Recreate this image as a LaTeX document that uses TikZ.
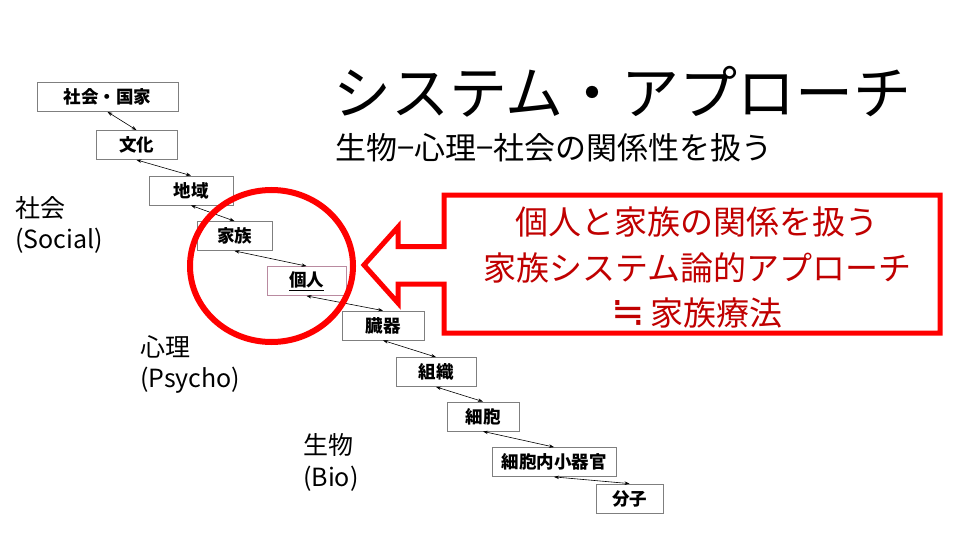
\documentclass[tikz,border=0pt]{standalone}
\usepackage{fontspec}
\setmainfont{Noto Sans CJK JP}
\newfontfamily\symfont{DejaVu Sans}
\usepackage{xcolor}
\definecolor{boxgray}{HTML}{7F7F7F}
\definecolor{selfrim}{HTML}{B98AA0}
\definecolor{calloutred}{HTML}{FF0000}
\definecolor{callouttext}{HTML}{C00000}
\usetikzlibrary{arrows.meta}

\begin{document}
\begin{tikzpicture}[x=1pt, y=-1pt, >={Stealth[length=5pt,width=3.5pt]},
                    every node/.style={inner sep=0pt},
                    levelbox/.style={draw=boxgray, line width=0.8pt, fill=white,
                      minimum height=29pt, font=\fontsize{17.5}{17.5}\selectfont\bfseries},
                    selfbox/.style={levelbox, draw=selfrim},
                    link/.style={<->, line width=0.6pt, black},
                    sidelabel/.style={anchor=west, font=\fontsize{25}{25}\selectfont}]

\useasboundingbox (0,0) rectangle (960,540);

%% ==== 題名 ===========================================================
\node[anchor=west, font=\fontsize{58}{58}\selectfont] (title) at (333,92)
  {システム・アプローチ};
\node[anchor=west, font=\fontsize{31}{31}\selectfont] (subtitle) at (335,148)
  {生物−心理−社会の関係性を扱う};

%% ==== 階層の箱 (上から下へ) ==========================================
\node[levelbox, minimum width=141pt] (kokka)     at (107.5,97)  {社会・国家};
\node[levelbox, minimum width=81pt]  (bunka)     at (136.5,145) {文化};
\node[levelbox, minimum width=84pt]  (chiiki)    at (191,190.5) {地域};
\node[levelbox, minimum width=75pt]  (kazoku)    at (234.5,236) {家族};
\node[selfbox,  minimum width=79pt]  (kojin)     at (306.5,281) {\underline{個人}};
\node[levelbox, minimum width=82pt]  (zouki)     at (383,325.5) {臓器};
\node[levelbox, minimum width=80pt]  (soshiki)   at (436,372)   {組織};
\node[levelbox, minimum width=72pt]  (saibou)    at (483,416.5) {細胞};
\node[levelbox, minimum width=124pt] (saibounai) at (554,462)   {細胞内小器官};
\node[levelbox, minimum width=67pt]  (bunshi)    at (629.5,498.5) {分子};

%% 隣り合う箱をつなぐ両向き矢印
\draw[link] (kokka.south)     -- (bunka.north);
\draw[link] (bunka.south)     -- (chiiki.north);
\draw[link] (chiiki.south)    -- (kazoku.north);
\draw[link] (kazoku.south)    -- (kojin.north);
\draw[link] (kojin.south)     -- (zouki.north);
\draw[link] (zouki.south)     -- (soshiki.north);
\draw[link] (soshiki.south)   -- (saibou.north);
\draw[link] (saibou.south)    -- (saibounai.north);
\draw[link] (saibounai.south) -- (bunshi.north);

%% ==== 左側の見出し ===================================================
\node[sidelabel] (social)   at (15,208)  {社会};
\node[sidelabel] (socialen) at (15,241)  {(Social)};
\node[sidelabel] (psycho)   at (140,347) {心理};
\node[sidelabel] (psychoen) at (140,380) {(Psycho)};
\node[sidelabel] (bio)      at (303,445) {生物};
\node[sidelabel] (bioen)    at (303,479) {(Bio)};

%% ==== 家族と個人を囲む赤い楕円 =======================================
\draw[calloutred, line width=6pt] (271.5,266) ellipse [x radius=81.5, y radius=76];

%% ==== 左向き矢印つきの吹き出し =======================================
\draw[calloutred, line width=5pt, fill=white, line join=miter]
  (444,195) -- (940,195) -- (940,333) -- (444,333) -- (444,284)
  -- (398,284) -- (398,303) -- (364,265) -- (398,227) -- (398,246.5)
  -- (444,246.5) -- cycle;

\node[text=callouttext, font=\fontsize{33}{33}\selectfont] (note1) at (697,222)
  {個人と家族の関係を扱う};
\node[text=callouttext, font=\fontsize{33}{33}\selectfont] (note2) at (697,268)
  {家族システム論的アプローチ};
\node[text=callouttext, font=\fontsize{33}{33}\selectfont] (note3) at (697,313)
  {{\symfont\fontsize{40}{33}\selectfont ≒}\,家族療法};

\end{tikzpicture}
\end{document}
